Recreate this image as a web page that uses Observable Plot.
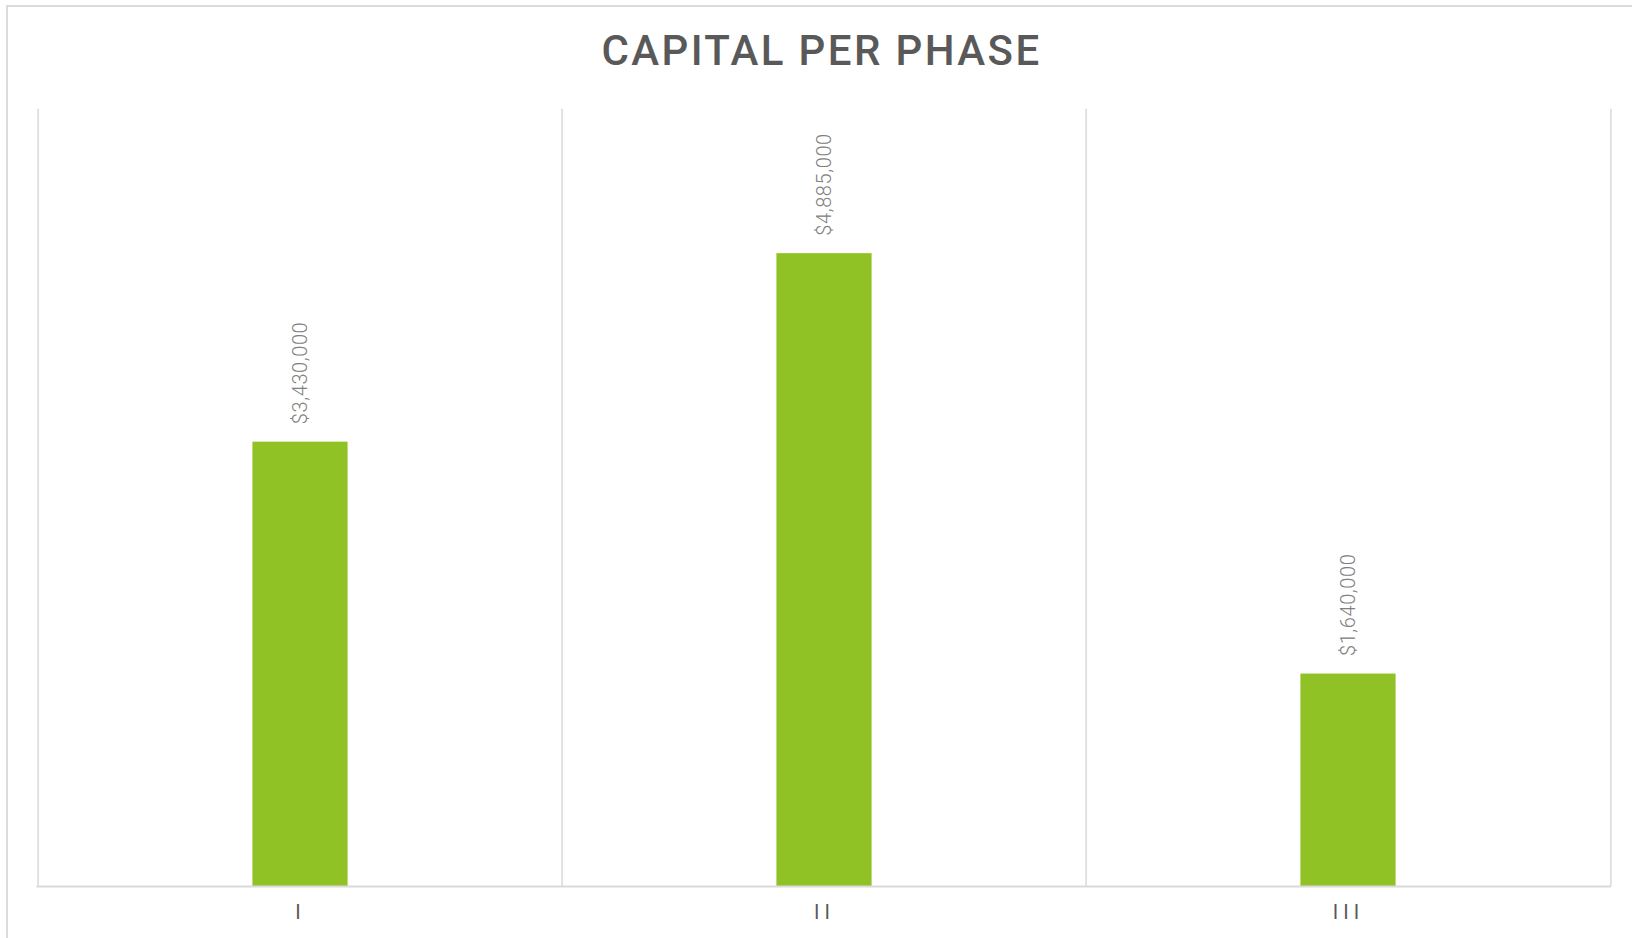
<!DOCTYPE html>
<html>
<head>
<meta charset="utf-8">
<script src="https://cdn.jsdelivr.net/npm/d3@7"></script>
<script src="https://cdn.jsdelivr.net/npm/@observablehq/plot@0.6"></script>
<style>
  html, body { margin: 0; padding: 0; background: #fff; }
  body { width: 1632px; height: 938px; overflow: hidden; position: relative; font-family: Roboto, sans-serif; }
  #frame { position: absolute; left: 6px; top: 5px; width: 1640px; height: 960px; border: 2px solid #dcdcdc; box-sizing: border-box; }
  #title { position: absolute; left: 11px; width: 1621px; top: 30px; text-align: center; font-size: 42px; line-height: 1; color: #595959; letter-spacing: 2.4px; font-weight: 500; }
  #chart { position: absolute; left: 0; top: 100px; }
  #chart g[aria-label="x-axis tick label"] text { letter-spacing: 5px; }
  #chart g[aria-label="text"] text { letter-spacing: 0.6px; }
</style>
</head>
<body>
<div id="frame"></div>
<div id="title">CAPITAL PER PHASE</div>
<div id="chart"></div>
<script>
const phases = ["I", "II", "III"];
const capital = [3430000, 4885000, 1640000];
const yMax = 6000000;

const data = phases.map((p, i) => ({phase: p, value: capital[i]}));

const W = 1632, H = 838;
const mL = 36.5, mR = 21, mT = 8.7, mB = 52;
const bw = (W - mL - mR) / phases.length;
const barW = 96;
const inset = (bw - barW) / 2;
const fmt = d3.format("$,");

const chart = Plot.plot({
  width: W,
  height: H,
  marginLeft: mL,
  marginRight: mR,
  marginTop: mT,
  marginBottom: mB,
  style: {fontFamily: "Roboto, sans-serif", background: "transparent"},
  x: {domain: phases, padding: 0, label: null, tickSize: 0, tickPadding: 18},
  y: {domain: [0, yMax], axis: null},
  marks: [
    Plot.ruleX(phases, {x: d => d, dx: -bw / 2, stroke: "#d9d9d9", strokeWidth: 1.5}),
    Plot.ruleX([phases[phases.length - 1]], {x: d => d, dx: bw / 2, stroke: "#d9d9d9", strokeWidth: 1.5}),
    Plot.barY(data, {x: "phase", y: "value", fill: "#91c225", insetLeft: inset, insetRight: inset}),
    Plot.ruleY([0], {stroke: "#d9d9d9", strokeWidth: 2}),
    Plot.text(data, {
      x: "phase", y: "value", text: d => fmt(d.value),
      rotate: -90, textAnchor: "start", lineAnchor: "middle",
      dy: -18, fill: "#808080", fontSize: 20, fontWeight: 300
    }),
    Plot.axisX({tickSize: 0, tickPadding: 18, fontSize: 20, fill: "#595959", label: null})
  ]
});
document.getElementById("chart").appendChild(chart);
</script>
</body>
</html>
